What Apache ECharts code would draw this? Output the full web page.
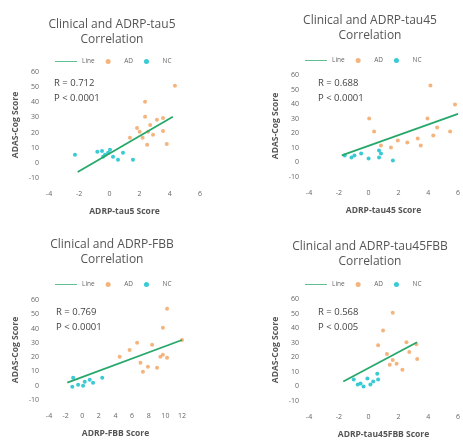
<!DOCTYPE html>
<html><head><meta charset="utf-8">
<script src="https://cdn.jsdelivr.net/npm/echarts@6/dist/echarts.min.js"></script>
<style>html,body{margin:0;padding:0;background:#fff}#c{width:463px;height:440px}</style>
</head><body><div id="c"></div>
<script>
const titles = ['Clinical and ADRP-tau5\nCorrelation','Clinical and ADRP-tau45\nCorrelation','Clinical and ADRP-FBB\nCorrelation','Clinical and ADRP-tau45FBB\nCorrelation'];
const xNames = ['ADRP-tau5 Score','ADRP-tau45 Score','ADRP-FBB Score','ADRP-tau45FBB Score'];
const yName = 'ADAS-Cog Score';
const stats = [['R = 0.712','P < 0.0001'],['R = 0.688','P < 0.0001'],['R = 0.769','P < 0.0001'],['R = 0.568','P < 0.005']];
const xRanges = [[-4,6,2],[-4,6,2],[-4,12,2],[-4,6,2]];
const yRange = [-10,60,10];

const ad1 = [[4.34,50.9],[2.36,40.3],[2.36,30.4],[3.15,28.4],[3.55,29.7],[1.83,23],[1.36,16.5],[2.56,20.5],[2.89,18.5],[3.55,21],[3.8,12.5],[2.5,12],[2.2,16.5],[2.0,20.5],[2.7,25]];
const nc1 = [[-2.28,5.3],[-0.49,7.9],[-0.29,5.3],[-0.09,6.6],[0.57,2],[0.9,6.6],[1.56,2],[0.24,4],[-0.42,4],[-0.8,7.3],[0.04,8.6]];
const line1 = [[-2.1,-6],[4.2,30.4]];

const ad2 = [[4.15,52.8],[5.8,39.8],[0.04,30.2],[0.37,21.3],[3.95,30.2],[4.6,24],[5.47,21.3],[4.34,18.5],[2.6,13.7],[3.3,16.5],[1.5,10.3],[1.96,15],[3.5,11.7],[0.83,11.7]];
const nc2 = [[-1.6,4.8],[-1.15,3.4],[-0.5,6.2],[0.7,8.2],[0.7,3.4],[0.83,6.2],[0,2.7],[1.63,1.4],[-0.95,4.8]];
const line2 = [[-1.8,4.8],[6,33.3]];

const ad3 = [[10.2,53.8],[9.7,40.5],[12.0,32],[6.6,30],[8.4,28.7],[4.5,20.3],[9.7,21.7],[10.2,19.6],[9,12.6],[7.3,9.8],[7,16],[7.9,13.3],[9.4,20.3],[5.7,25]];
const nc3 = [[-1.1,5.6],[-0.5,0.7],[0.3,2.8],[0.9,4.2],[2.4,5.6],[-1.2,-0.7],[1.3,2.1],[0.1,0]];
const line3 = [[-1.8,2.1],[12,32]];

const ad4 = [[1.62,50.5],[0.97,38.4],[0.64,28.3],[2.54,30.3],[3.2,29],[1.23,22.2],[1.62,18.2],[3.26,18.8],[2.27,11.4],[1.42,14.8],[1.88,15.5],[2.73,23.6]];
const nc4 = [[-1,4.7],[-0.54,2],[-0.08,5.4],[0.31,3.4],[0.58,8.7],[-0.34,0],[0.12,1.3],[-0.73,1.3],[0.64,4.7]];
const line4 = [[-1.7,3.4],[3.25,30.3]];

const adSets = [ad1,ad2,ad3,ad4];
const ncSets = [nc1,nc2,nc3,nc4];
const lineSets = [line1,line2,line3,line4];

const grids = [
  {left:49, top:72, width:151, height:106},
  {left:309, top:75, width:151, height:102},
  {left:49, top:300, width:133, height:100},
  {left:309, top:299, width:153, height:104}
];
const titlePos = [[107,12],[365,8],[107,232],[365,234]];
const legendPos = [[50,53],[300,52],[50,276],[300,276]];
const statPos = [[54,76],[318,76],[56,305],[318,305]];

const FONT = 'Open Sans';
const AD_COLOR = '#f2a766';
const NC_COLOR = '#25c4cf';
const LINE_COLOR = '#27a86a';

const option = {
  animation:false,
  backgroundColor:'#fff',
  textStyle:{fontFamily:FONT},
  title: titles.map((t,i)=>({text:t, left:titlePos[i][0], top:titlePos[i][1], textAlign:'center',
    textStyle:{fontSize:12, fontWeight:'normal', color:'#555', lineHeight:15, fontFamily:FONT}})),
  legend: legendPos.map((p,i)=>({left:p[0], top:p[1], itemWidth:22, itemHeight:5, itemGap:11,
    textStyle:{fontSize:6.5, color:'#666'},
    data:[{name:'Line', icon:'path://M0,0H30V1H0Z'},{name:'AD', icon:'circle'},{name:'NC', icon:'circle'}]})),
  grid: grids,
  xAxis: xRanges.map((r,i)=>({type:'value', gridIndex:i, min:r[0], max:r[1], interval:r[2],
    name:xNames[i], nameLocation:'middle', nameGap:29,
    nameTextStyle:{fontSize:8.5, fontWeight:'bold', color:'#555'},
    axisLine:{show:false}, axisTick:{show:false}, splitLine:{show:false},
    axisLabel:{fontSize:7, color:'#666', margin:12}})),
  yAxis: grids.map((g,i)=>({type:'value', gridIndex:i, min:yRange[0], max:yRange[1], interval:yRange[2],
    name:yName, nameLocation:'middle', nameGap:29, nameRotate:90,
    nameTextStyle:{fontSize:8.5, fontWeight:'bold', color:'#555'},
    axisLine:{show:false}, axisTick:{show:false}, splitLine:{show:false},
    axisLabel:{fontSize:7, color:'#666', margin:10}})),
  graphic: stats.map((s,i)=>({type:'text', left:statPos[i][0], top:statPos[i][1],
    style:{text:s.join('\n'), fontSize:9.5, lineHeight:15, fill:'#444', fontFamily:FONT}})),
  series: []
};
for (let i=0;i<4;i++){
  option.series.push({name:'Line', type:'line', xAxisIndex:i, yAxisIndex:i, data:lineSets[i], symbol:'none',
    lineStyle:{color:LINE_COLOR, width:1.8}, itemStyle:{color:LINE_COLOR}, z:3});
  option.series.push({name:'AD', type:'scatter', xAxisIndex:i, yAxisIndex:i, data:adSets[i], symbolSize:4,
    itemStyle:{color:AD_COLOR, opacity:0.85}});
  option.series.push({name:'NC', type:'scatter', xAxisIndex:i, yAxisIndex:i, data:ncSets[i], symbolSize:4,
    itemStyle:{color:NC_COLOR, opacity:0.9}});
}
const chart = echarts.init(document.getElementById('c'), null, {renderer:'canvas'});
chart.setOption(option);
</script></body></html>
